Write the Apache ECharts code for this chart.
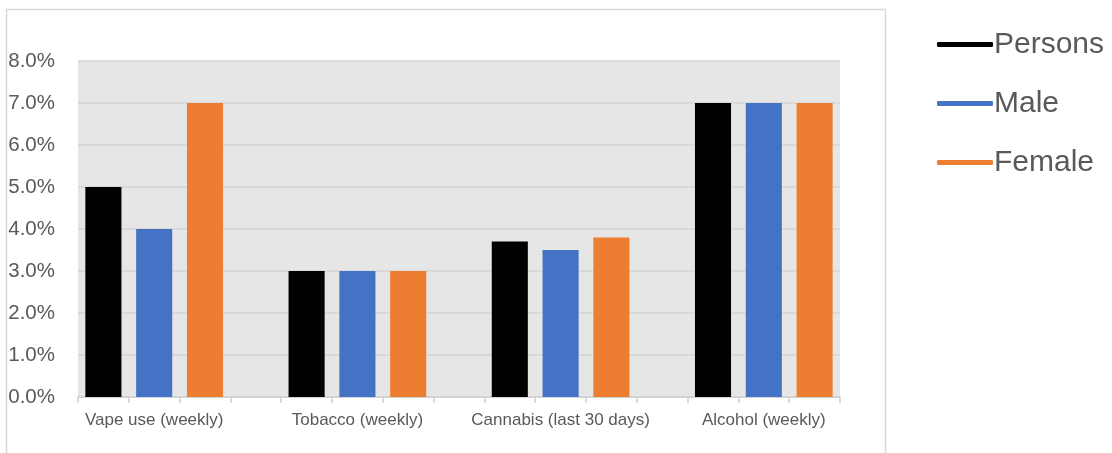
<!DOCTYPE html>
<html>
<head>
<meta charset="utf-8">
<script src="https://cdn.jsdelivr.net/npm/echarts@6/dist/echarts.min.js"></script>
<style>html,body{margin:0;padding:0;background:#fff;}#c{width:1112px;height:453px;}</style>
</head>
<body>
<div id="c"></div>
<script>
const groups = ['Vape use (weekly)', 'Tobacco (weekly)', 'Cannabis (last 30 days)', 'Alcohol (weekly)'];
const seriesNames = ['Persons', 'Male', 'Female'];
const persons = [5.0, 3.0, 3.7, 7.0];
const male = [4.0, 3.0, 3.5, 7.0];
const female = [7.0, 3.0, 3.8, 7.0];
const yTicks = [0, 1, 2, 3, 4, 5, 6, 7, 8];
const colors = ['#000000', '#4472C4', '#ED7D31'];

// build slot layout: each group = 3 bar slots + 1 blank slot (no blank after last)
const slots = [];
const slotLabel = [];
const slotGroup = [];
const slotSeries = [];
groups.forEach((g, gi) => {
  const n = gi < groups.length - 1 ? 4 : 3;
  for (let s = 0; s < n; s++) {
    slots.push('s' + slots.length);
    slotLabel.push(s === 1 ? g : '');
    slotGroup.push(gi);
    slotSeries.push(s < 3 ? s : -1);
  }
});
const vals = [persons, male, female];
const series = seriesNames.map((name, si) => ({
  name: name,
  type: 'bar',
  stack: 'all',
  barWidth: '71%',
  itemStyle: { color: colors[si] },
  data: slots.map((_, k) => slotSeries[k] === si ? vals[si][slotGroup[k]] : null)
}));

const chart = echarts.init(document.getElementById('c'), null, { renderer: 'canvas' });
chart.setOption({
  animation: false,
  textStyle: { fontFamily: 'Liberation Sans, Arial, sans-serif' },
  graphic: [{
    type: 'rect',
    shape: { x: 6.5, y: 9.5, width: 879, height: 470 },
    style: { fill: 'none', stroke: '#d9d9d9', lineWidth: 1.5 },
    silent: true, z: -10
  }],
  grid: {
    left: 78, right: 272, top: 61, bottom: 56,
    show: true, backgroundColor: '#e6e6e6', borderWidth: 0
  },
  legend: {
    orient: 'vertical',
    left: 932, top: 24,
    itemWidth: 56, itemHeight: 5,
    itemGap: 28,
    icon: 'roundRect',
    data: seriesNames,
    textStyle: { fontSize: 30, color: '#595959', lineHeight: 31, padding: [0, 0, 0, -4] }
  },
  xAxis: {
    type: 'category',
    data: slots,
    boundaryGap: true,
    axisLine: { show: true, lineStyle: { color: '#d0d0d0', width: 1.5 } },
    axisTick: { show: true, interval: 0, length: 6, lineStyle: { color: '#d0d0d0', width: 1.5 } },
    axisLabel: {
      interval: 0, margin: 15, fontSize: 17, color: '#595959',
      formatter: (v, i) => slotLabel[i]
    },
    splitLine: { show: false }
  },
  yAxis: {
    type: 'value',
    min: yTicks[0], max: yTicks[yTicks.length - 1], interval: 1,
    axisLine: { show: false },
    axisTick: { show: false },
    axisLabel: { fontSize: 20.5, color: '#595959', margin: 23, formatter: v => v.toFixed(1) + '%' },
    splitLine: { lineStyle: { color: '#d5d5d5', width: 1.5 } }
  },
  series: series
});
</script>
</body>
</html>
